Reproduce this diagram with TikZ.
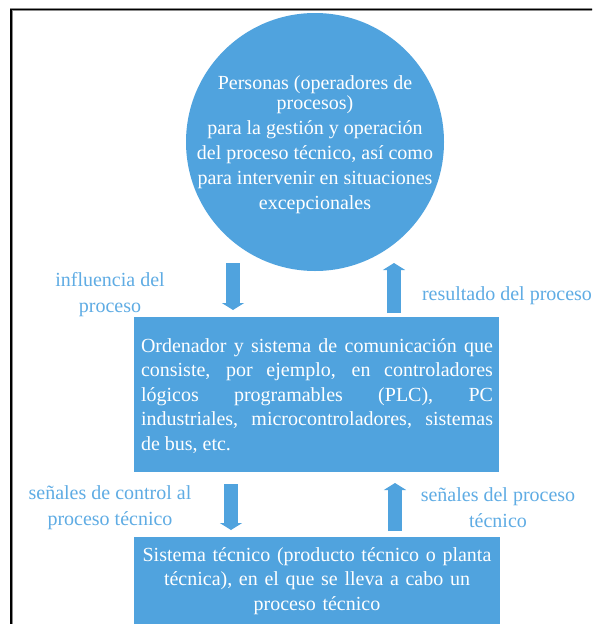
\documentclass[tikz,border=0pt]{standalone}
\usepackage{fontspec}
\setmainfont{Liberation Serif}
\usetikzlibrary{arrows.meta}

\definecolor{boxblue}{RGB}{80,163,222}
\definecolor{labelblue}{RGB}{95,172,228}

\tikzset{
  blockfill/.style={fill=boxblue, draw=none},
  boxtext/.style={text=white, inner sep=0pt, font=\fontsize{20}{24.5}\selectfont},
  sidelabel/.style={text=labelblue, inner sep=0pt, align=center,
    font=\fontsize{20}{26}\selectfont},
  flowarrow/.style={draw=boxblue, line width=14pt,
    -{Triangle[width=22pt,length=7pt]}},
}

\begin{document}
\begin{tikzpicture}[x=1pt,y=-1pt]
  \useasboundingbox (0,0) rectangle (592,624);
  \clip (0,0) rectangle (592,624);
  \fill[white] (0,0) rectangle (592,624);

  % page frame
  \draw[line width=3pt, black!45] (11,650) -- (11,9.5) -- (610,9.5);
  \draw[line width=1.4pt, black] (11,650) -- (11,9.5) -- (610,9.5);

  % operators
  \node[circle, blockfill, minimum size=258pt, inner sep=0pt] (circ) at (315,142) {};
  \node[boxtext, align=center, font=\fontsize{20}{20}\selectfont] (circlbl) at (315,145)
    {Personas (operadores de\\procesos)\\[5pt]para la gestión y operación\\[5pt]del proceso técnico, así como\\[5pt]para intervenir en situaciones\\[5pt]excepcionales};

  % computer and communication system
  \node[rectangle, blockfill, minimum width=365pt, minimum height=155pt, inner sep=0pt] (comp) at (316.5,394.5) {};
  \node[boxtext, text width=352pt, align=justify] (complbl) at (317,396)
    {Ordenador y sistema de comunicación que\linebreak consiste, por ejemplo, en controladores\linebreak lógicos programables (PLC), PC\linebreak industriales, microcontroladores, sistemas\linebreak de bus, etc.};

  % technical system
  \node[rectangle, blockfill, minimum width=366pt, minimum height=130pt, inner sep=0pt, anchor=north] (tech) at (317,537) {};
  \node[boxtext, text width=352pt, align=center] (techlbl) at (317,581)
    {Sistema técnico (producto técnico o planta\\técnica), en el que se lleva a cabo un\\proceso técnico};

  % connectors
  \coordinate (a1s) at (233,263);
  \coordinate (a1e) at (233,310);
  \coordinate (a2s) at (394,313);
  \coordinate (a2e) at (394,263);
  \coordinate (a3s) at (231,484);
  \coordinate (a3e) at (231,530);
  \coordinate (a4s) at (395,531);
  \coordinate (a4e) at (395,483);
  \draw[flowarrow] (a1s) -- (a1e);
  \draw[flowarrow] (a2s) -- (a2e);
  \draw[flowarrow] (a3s) -- (a3e);
  \draw[flowarrow] (a4s) -- (a4e);

  % labels
  \node[sidelabel] (l1) at (110,295) {influencia del\\proceso};
  \node[sidelabel] (l2) at (507,296) {resultado del proceso};
  \node[sidelabel] (l3) at (110,508) {señales de control al\\proceso técnico};
  \node[sidelabel] (l4) at (498,508) {señales del proceso\\técnico};
\end{tikzpicture}
\end{document}
